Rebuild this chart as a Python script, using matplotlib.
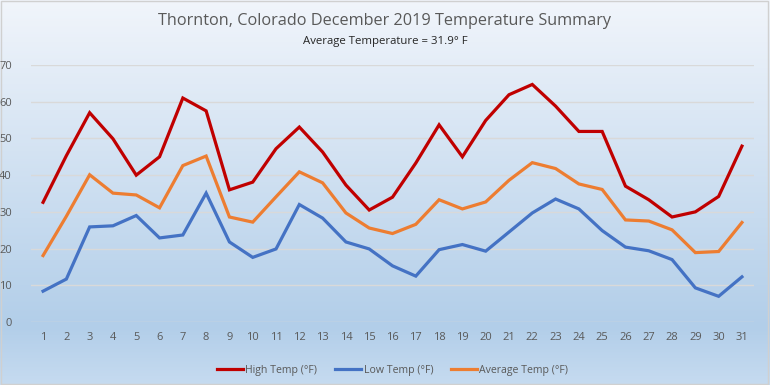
import matplotlib
matplotlib.use("Agg")
import matplotlib.pyplot as plt
import numpy as np
from matplotlib.colors import LinearSegmentedColormap
from matplotlib.patches import Rectangle

days = list(range(1, 32))
high = [32.6, 45.3, 57.0, 49.9, 40.0, 45.0, 61.0, 57.5, 36.0, 38.1, 47.2, 53.1, 46.3, 37.3, 30.5,
        34.0, 43.3, 53.7, 45.0, 54.9, 61.9, 64.7, 58.8, 51.9, 51.9, 37.0, 33.3, 28.6, 30.0, 34.2, 47.9]
low = [8.4, 11.7, 25.9, 26.2, 29.0, 22.9, 23.7, 35.1, 21.8, 17.6, 19.9, 32.0, 28.3, 21.8, 19.9,
       15.3, 12.5, 19.7, 21.1, 19.3, 24.5, 29.7, 33.5, 30.8, 24.9, 20.4, 19.4, 17.0, 9.3, 7.0, 12.3]
avg = [18.1, 28.8, 40.1, 35.1, 34.6, 31.1, 42.6, 45.2, 28.6, 27.2, 34.1, 40.9, 37.9, 29.7, 25.6,
       24.1, 26.6, 33.3, 30.8, 32.7, 38.6, 43.4, 41.8, 37.6, 36.1, 27.8, 27.5, 25.1, 18.9, 19.2, 27.1]
series_names = ["High Temp (°F)", "Low Temp (°F)", "Average Temp (°F)"]
title = "Thornton, Colorado December 2019 Temperature Summary"
subtitle = "Average Temperature = 31.9° F"

plt.rcParams['font.family'] = ['Open Sans', 'DejaVu Sans']
fig = plt.figure(figsize=(7.7, 3.85), dpi=100)

# gradient background
bg = fig.add_axes([0, 0, 1, 1], zorder=-10)
cmap = LinearSegmentedColormap.from_list("bg", [(0, "#f1f5fb"), (0.85, "#b2cee9"), (1.0, "#c6dbf0")])
grad = np.linspace(0, 1, 256).reshape(-1, 1)
bg.imshow(grad, aspect="auto", cmap=cmap, extent=[0, 1, 0, 1], origin="upper")
bg.set_xlim(0, 1); bg.set_ylim(0, 1)
bg.axis("off")
bg.add_patch(Rectangle((0.001, 0.002), 0.997, 0.996, fill=False, edgecolor="#d0d0d0", lw=1.0,
                       transform=bg.transAxes))

ax = fig.add_axes([0.0408, 0.1636, 0.9379, 0.6676])
ax.set_facecolor("none")
colors = ["#c00000", "#4472c4", "#ed7d31"]
for vals, name, c in zip([high, low, avg], series_names, colors):
    ax.plot(days, vals, color=c, lw=2.3, label=name, solid_joinstyle="miter", zorder=3)

ax.set_xlim(0.5, 31.5)
ax.set_ylim(0, 70)
ax.set_yticks(range(0, 71, 10))
ax.set_xticks(days)
ax.grid(axis="y", color="#d9d9d9", lw=1.0, zorder=0)
for s in ax.spines.values():
    s.set_visible(False)
ax.tick_params(axis="both", length=0, labelsize=8, labelcolor="#595959")
ax.tick_params(axis="y", pad=14)
ax.tick_params(axis="x", pad=7)

fig.text(0.5, 0.945, title, ha="center", va="center", fontsize=11.7, color="#595959")
fig.text(0.5, 0.892, subtitle, ha="center", va="center", fontsize=8.2, color="#262626")

leg = ax.legend(loc="center", bbox_to_anchor=(0.5, -0.188), ncol=3, frameon=False,
                fontsize=7.6, handlelength=2.5, handletextpad=0.2, columnspacing=1.7,
                labelcolor="#595959")

fig.savefig("out.png", dpi=100)
